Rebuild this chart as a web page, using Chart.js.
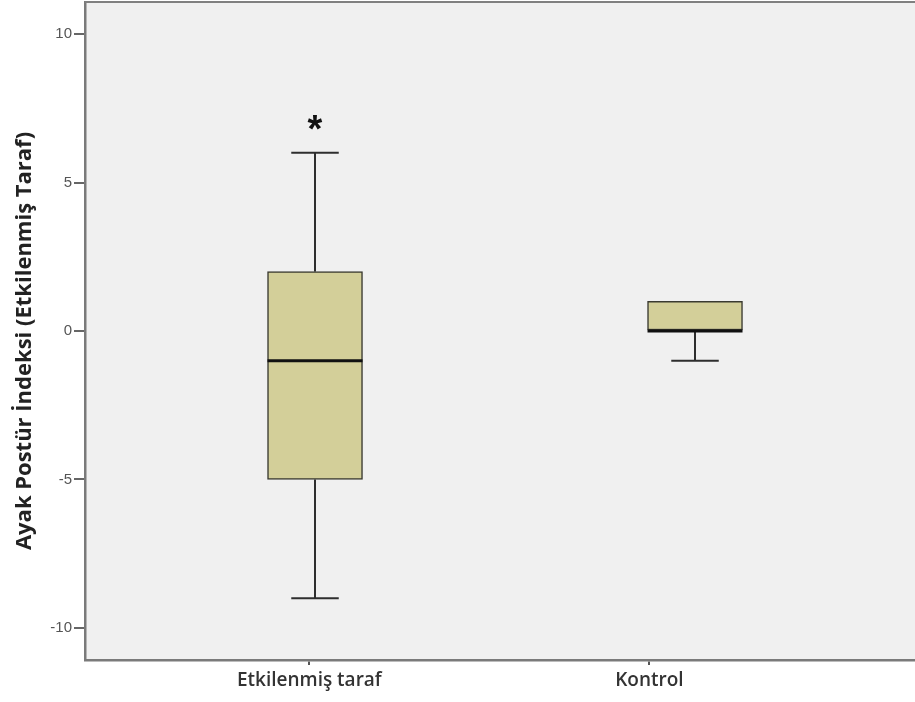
<!DOCTYPE html>
<html>
<head>
<meta charset="utf-8">
<script src="https://cdn.jsdelivr.net/npm/chart.js@4"></script>
<style>
  html, body { margin: 0; padding: 0; background: #ffffff; }
  #wrap { width: 915px; height: 702px; }
  canvas { display: block; }
</style>
</head>
<body>
<div id="wrap"><canvas id="c" width="915" height="702" style="width:915px;height:702px"></canvas></div>
<script>
// Five-number summaries per group
const groups = ['Etkilenmiş taraf', 'Kontrol'];
const whiskerLow = [-9, -1];
const q1 = [-5, 0];
const median = [-1, 0];
const q3 = [2, 1];
const whiskerHigh = [6, 1];
const outliers = [[7], []];

// Axis ticks and titles
const yTicks = [-10, -5, 0, 5, 10];
const yTitle = 'Ayak Postür İndeksi (Etkilenmiş Taraf)';
const xLabelAt = [-0.015, 0.88];

const boxData = groups.map((g, i) => ({ x: i, y: [q1[i], q3[i]] }));

const boxPlot = {
  id: 'boxPlot',
  beforeDraw(chart) {
    const { ctx, chartArea: a } = chart;
    ctx.save();
    ctx.fillStyle = '#f0f0f0';
    ctx.fillRect(a.left, a.top, a.right - a.left, a.bottom - a.top);
    ctx.restore();
  },
  afterDatasetsDraw(chart) {
    const { ctx } = chart;
    const xs = chart.scales.x, ys = chart.scales.y;
    const bars = chart.getDatasetMeta(0).data;
    ctx.save();
    groups.forEach((g, i) => {
      const cx = xs.getPixelForValue(i);
      const half = bars[i].width / 2;
      const cap = half / 2;
      ctx.strokeStyle = '#2e2e2e';
      ctx.lineWidth = 2;
      ctx.lineCap = 'butt';
      // upper whisker
      if (whiskerHigh[i] > q3[i]) {
        ctx.beginPath();
        ctx.moveTo(cx, ys.getPixelForValue(q3[i]));
        ctx.lineTo(cx, ys.getPixelForValue(whiskerHigh[i]));
        ctx.stroke();
        ctx.beginPath();
        ctx.moveTo(cx - cap, ys.getPixelForValue(whiskerHigh[i]));
        ctx.lineTo(cx + cap, ys.getPixelForValue(whiskerHigh[i]));
        ctx.stroke();
      }
      // lower whisker
      if (whiskerLow[i] < q1[i]) {
        ctx.beginPath();
        ctx.moveTo(cx, ys.getPixelForValue(q1[i]));
        ctx.lineTo(cx, ys.getPixelForValue(whiskerLow[i]));
        ctx.stroke();
        ctx.beginPath();
        ctx.moveTo(cx - cap, ys.getPixelForValue(whiskerLow[i]));
        ctx.lineTo(cx + cap, ys.getPixelForValue(whiskerLow[i]));
        ctx.stroke();
      }
      // median
      ctx.strokeStyle = '#111111';
      ctx.lineWidth = 3;
      ctx.beginPath();
      ctx.moveTo(cx - half, ys.getPixelForValue(median[i]));
      ctx.lineTo(cx + half, ys.getPixelForValue(median[i]));
      ctx.stroke();
      // extreme values
      ctx.fillStyle = '#111111';
      ctx.font = 'bold 38px "Liberation Sans", Arial, sans-serif';
      ctx.textAlign = 'center';
      ctx.textBaseline = 'middle';
      outliers[i].forEach(v => {
        ctx.fillText('*', cx, ys.getPixelForValue(v) + 8);
      });
    });
    ctx.restore();
  },
  afterDraw(chart) {
    const { ctx, chartArea: a } = chart;
    ctx.save();
    // frame top edge
    ctx.strokeStyle = '#808080';
    ctx.lineWidth = 2;
    ctx.beginPath();
    ctx.moveTo(a.left, a.top);
    ctx.lineTo(a.right, a.top);
    ctx.stroke();
    // vertical axis title
    ctx.translate(25, 341);
    ctx.rotate(-Math.PI / 2);
    ctx.fillStyle = '#222222';
    ctx.font = 'bold 22px "Open Sans", sans-serif';
    ctx.textAlign = 'center';
    ctx.textBaseline = 'middle';
    ctx.fillText(yTitle, 0, 0);
    ctx.restore();
  }
};

new Chart(document.getElementById('c'), {
  type: 'bar',
  data: {
    datasets: [{
      data: boxData,
      backgroundColor: '#d3cf99',
      borderColor: '#3a3a30',
      borderWidth: 1.5,
      borderSkipped: false,
      barThickness: 95
    }]
  },
  options: {
    responsive: false,
    animation: false,
    layout: { padding: { top: 2, right: 0, left: 0, bottom: 0 } },
    plugins: { legend: { display: false }, tooltip: { enabled: false } },
    scales: {
      x: {
        type: 'linear',
        offset: false,
        min: -0.6053,
        max: 1.5789,
        afterBuildTicks(scale) { scale.ticks = xLabelAt.map(v => ({ value: v })); },
        afterFit(scale) {
          scale.height = 42;
          scale.paddingLeft = 0; scale.paddingRight = 0;
        },
        grid: { offset: false, drawOnChartArea: false, drawTicks: true, tickLength: 5, tickColor: '#555', lineWidth: 2 },
        border: { display: true, color: '#7a7a7a', width: 2.5 },
        ticks: {
          autoSkip: false,
          maxRotation: 0,
          padding: 4,
          color: '#333333',
          font: { family: 'Open Sans', size: 19, weight: '600' },
          callback(value, index) { return groups[index]; }
        }
      },
      y: {
        min: -11.08,
        max: 11.08,
        afterBuildTicks(scale) { scale.ticks = yTicks.map(v => ({ value: v })); },
        afterFit(scale) {
          scale.width = 85;
          scale.paddingTop = 0; scale.paddingBottom = 0;
        },
        grid: { drawOnChartArea: false, drawTicks: true, tickLength: 11, tickColor: '#666', lineWidth: 2 },
        border: { display: true, color: '#7a7a7a', width: 2.5 },
        ticks: {
          padding: 2,
          color: '#555555',
          font: { family: 'Liberation Sans', size: 15 }
        },
        title: { display: false }
      }
    }
  },
  plugins: [boxPlot]
});
</script>
</body>
</html>
